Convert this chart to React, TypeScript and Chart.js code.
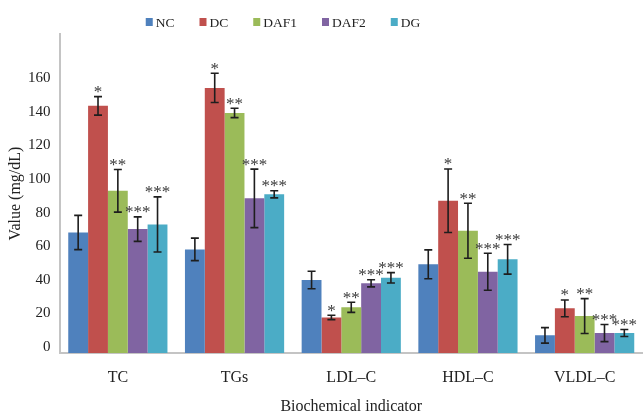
import { useEffect, useRef } from "react";
import { Chart, registerables } from "chart.js";

Chart.register(...registerables);

const categories = ["TC", "TGs", "LDL–C", "HDL–C", "VLDL–C"];
const seriesNames = ["NC", "DC", "DAF1", "DAF2", "DG"];
const colors = ["#4F81BD", "#C0504D", "#9BBB59", "#8064A2", "#4BACC6"];

const ncValues = [71.8, 61.7, 43.5, 52.8, 10.5];
const dcValues = [147.2, 157.9, 21.2, 90.7, 26.6];
const daf1Values = [96.6, 143.0, 27.2, 72.8, 22.0];
const daf2Values = [73.8, 92.1, 41.5, 48.4, 11.9];
const dgValues = [76.6, 94.5, 44.8, 55.8, 11.9];

const ncErrors = [10.2, 6.7, 5.2, 8.6, 4.6];
const dcErrors = [5.5, 8.7, 1.3, 18.9, 5.0];
const daf1Errors = [12.7, 2.8, 3.0, 16.4, 10.4];
const daf2Errors = [7.3, 17.4, 2.1, 11.0, 5.1];
const dgErrors = [16.4, 2.1, 3.1, 8.8, 2.1];

const ncMarks = ["", "", "", "", ""];
const dcMarks = ["*", "*", "*", "*", "*"];
const daf1Marks = ["**", "**", "**", "**", "**"];
const daf2Marks = ["***", "***", "***", "***", "***"];
const dgMarks = ["***", "***", "***", "***", "***"];

const yTickValues = [0, 20, 40, 60, 80, 100, 120, 140, 160];

const allValues = [ncValues, dcValues, daf1Values, daf2Values, dgValues];
const allErrors = [ncErrors, dcErrors, daf1Errors, daf2Errors, dgErrors];
const allMarks = [ncMarks, dcMarks, daf1Marks, daf2Marks, dgMarks];

const SERIF = "'Liberation Serif', 'Times New Roman', serif";

const errorBarPlugin = {
  id: "errorBars",
  afterDatasetsDraw(chart: any) {
    const ctx = chart.ctx;
    const y = chart.scales.y;
    ctx.save();
    chart.data.datasets.forEach((ds: any, i: number) => {
      const meta = chart.getDatasetMeta(i);
      meta.data.forEach((bar: any, j: number) => {
        const v = ds.data[j];
        const e = ds.errors[j];
        const top = y.getPixelForValue(v + e);
        const bot = y.getPixelForValue(v - e);
        ctx.strokeStyle = "#1e1e1e";
        ctx.lineWidth = 1.6;
        ctx.beginPath();
        ctx.moveTo(bar.x, top);
        ctx.lineTo(bar.x, bot);
        ctx.moveTo(bar.x - 4, top);
        ctx.lineTo(bar.x + 4, top);
        ctx.moveTo(bar.x - 4, bot);
        ctx.lineTo(bar.x + 4, bot);
        ctx.stroke();
        const m = ds.marks[j];
        if (m) {
          ctx.fillStyle = "#3a3a3a";
          ctx.font = `17px ${SERIF}`;
          ctx.textAlign = "center";
          ctx.textBaseline = "alphabetic";
          ctx.fillText(m, bar.x, top + 0.5);
        }
      });
    });
    ctx.restore();
  },
};

const legendPlugin = {
  id: "customLegend",
  afterDraw(chart: any) {
    const ctx = chart.ctx;
    ctx.save();
    ctx.font = `13.5px ${SERIF}`;
    const gap = 25;
    const boxToText = 10;
    const widths = chart.data.datasets.map(
      (d: any) => boxToText + ctx.measureText(d.label).width
    );
    const total =
      widths.reduce((a: number, b: number) => a + b, 0) +
      gap * (widths.length - 1);
    const centerX = 283;
    let x = centerX - total / 2;
    const yMid = 22;
    chart.data.datasets.forEach((d: any, i: number) => {
      ctx.fillStyle = d.backgroundColor;
      ctx.fillRect(x, yMid - 4, 7, 8);
      ctx.fillStyle = "#222";
      ctx.textAlign = "left";
      ctx.textBaseline = "middle";
      ctx.fillText(d.label, x + boxToText, yMid + 1);
      x += widths[i] + gap;
    });
    ctx.restore();
  },
};

export default function App() {
  const ref = useRef<HTMLCanvasElement>(null);
  useEffect(() => {
    if (!ref.current) return;
    const chart = new Chart(ref.current, {
      type: "bar",
      data: {
        labels: categories,
        datasets: seriesNames.map((name, i) => ({
          label: name,
          data: allValues[i],
          errors: allErrors[i],
          marks: allMarks[i],
          backgroundColor: colors[i],
          borderWidth: 0,
          categoryPercentage: 0.85,
          barPercentage: 1,
        })) as any,
      },
      options: {
        animation: false,
        responsive: false,
        layout: { padding: { top: 34, left: 2, right: 0, bottom: 0 } },
        plugins: {
          legend: { display: false },
          tooltip: { enabled: false },
        },
        scales: {
          x: {
            afterFit(scale: any) {
              scale.height = 62;
            },
            grid: { display: false, drawTicks: false },
            border: { display: true, color: "#c4c4c4", width: 2 },
            ticks: {
              color: "#222",
              font: { family: SERIF, size: 16, lineHeight: 1 },
              padding: 17,
            },
            title: {
              display: true,
              text: "Biochemical indicator",
              color: "#222",
              font: { family: SERIF, size: 16, lineHeight: 1 },
              padding: { top: 0, bottom: 0 },
            },
          },
          y: {
            min: 0,
            max: 190,
            afterBuildTicks(scale: any) {
              scale.ticks = yTickValues.map((v) => ({ value: v }));
            },
            afterFit(scale: any) {
              scale.width = 57.5;
            },
            grid: { display: false, drawTicks: false },
            border: { display: true, color: "#c4c4c4", width: 2 },
            ticks: {
              color: "#222",
              font: { family: SERIF, size: 15 },
              padding: 9,
              labelOffset: -6,
            },
            title: {
              display: true,
              text: "Value (mg/dL)",
              color: "#222",
              font: { family: SERIF, size: 16 },
              padding: { top: 4, bottom: 4 },
            },
          },
        },
      },
      plugins: [errorBarPlugin, legendPlugin],
    });
    return () => chart.destroy();
  }, []);
  return (
    <div style={{ position: "fixed", left: 0, top: 0, width: 643, height: 415, background: "#fff" }}>
      <canvas ref={ref} width={643} height={415} style={{ display: "block" }} />
    </div>
  );
}
